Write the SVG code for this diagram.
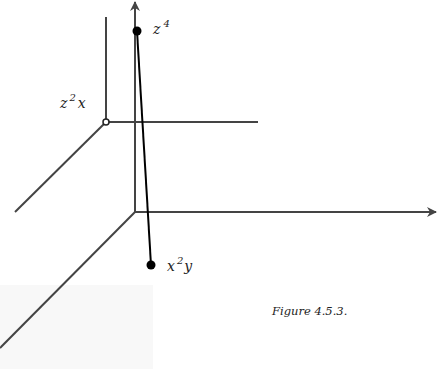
<svg xmlns="http://www.w3.org/2000/svg" width="437" height="369" viewBox="0 0 437 369">
<defs>
<style>
.ax{stroke:#444;stroke-width:2;fill:none}
.lbl{font-family:"DejaVu Serif","Liberation Serif",serif;font-style:italic;font-size:14px;fill:#222}
.sup{font-size:10px}
.cap{font-family:"DejaVu Serif","Liberation Serif",serif;font-style:italic;font-size:11.5px;fill:#222}
</style>
<marker id="arr" viewBox="0 0 10 10" refX="9" refY="5" markerWidth="5" markerHeight="5" orient="auto">
<path d="M0,0 L10,5 L0,10 L3,5 Z" fill="#444"/>
</marker>
</defs>
<rect x="0" y="285" width="153" height="84" fill="#f8f8f8"/>
<g id="connectors">
<line class="ax" x1="135" y1="212" x2="135" y2="2" marker-end="url(#arr)"/>
<line class="ax" x1="135" y1="212" x2="436" y2="212" marker-end="url(#arr)"/>
<line class="ax" x1="135" y1="212" x2="0" y2="348"/>
<line class="ax" x1="106" y1="17" x2="106" y2="122"/>
<line class="ax" x1="106" y1="122" x2="258" y2="122"/>
<line class="ax" x1="106" y1="122" x2="15" y2="212"/>
<line x1="137" y1="31" x2="151" y2="265" stroke="#000" stroke-width="2"/>
</g>
<g id="node-z4">
<circle cx="137" cy="31" r="4.5" fill="#000"/>
<text class="lbl" x="153" y="34">z<tspan class="sup" dx="3" dy="-7">4</tspan></text>
</g>
<g id="node-z2x">
<circle cx="106" cy="122" r="3" fill="#fff" stroke="#222" stroke-width="1.5"/>
<text class="lbl" x="60" y="108">z<tspan class="sup" dx="2" dy="-7">2</tspan><tspan dx="2" dy="7">x</tspan></text>
</g>
<g id="node-x2y">
<circle cx="151" cy="265" r="4.5" fill="#000"/>
<text class="lbl" x="167" y="271">x<tspan class="sup" dx="2" dy="-7">2</tspan><tspan dx="1" dy="7">y</tspan></text>
</g>
<text class="cap" x="272" y="315">Figure 4.5.3.</text>
</svg>
